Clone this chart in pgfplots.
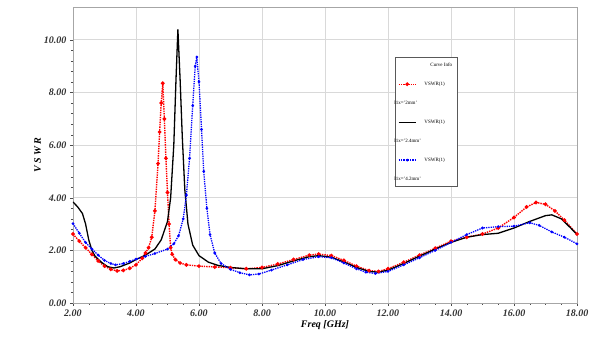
\documentclass[border=0pt]{standalone}
\usepackage{fontspec}
\setmainfont{Liberation Serif}
\usepackage{pgfplots}
\pgfplotsset{compat=1.18}
\begin{document}
\begin{tikzpicture}
\useasboundingbox (-73pt,-41pt) rectangle (525pt,303pt);
\begin{axis}[
  at={(0pt,0pt)}, anchor=south west,
  scale only axis, width=504pt, height=296pt,
  xmin=2, xmax=18, ymin=0, ymax=11.25,
  xtick={2,4,...,18}, ytick={0,2,...,10},
  minor x tick num=3, minor y tick num=4,
  grid=major, major grid style={gray!30, line width=0.8pt},
  axis line style={gray!70, line width=0.8pt},
  tick style={gray!60!black}, minor tick length=2pt, major tick length=3pt,
  tick align=outside, xtick pos=bottom, ytick pos=left,
  /pgf/number format/assume math mode=true,
  /pgf/number format/.cd, fixed, fixed zerofill, precision=2, /pgfplots/.cd,
  tick label style={font=\fontsize{10}{11}\selectfont\bfseries\itshape, text=black!80},
  xlabel={Freq [GHz]}, ylabel={V S W R},
  label style={font=\fontsize{10}{11}\selectfont\bfseries\itshape},
  xlabel style={yshift=3pt}, ylabel style={yshift=-4pt},
  legend style={at={(rel axis cs:0.638,0.83)}, anchor=north west, font=\fontsize{5}{6}\selectfont,
    draw=gray!70!black, line width=0.8pt, cells={anchor=west}, row sep=10pt,
    inner xsep=3pt, inner ysep=3pt},
  legend image post style={sharp plot},
  legend cell align=left,
]
\addlegendimage{empty legend}\addlegendentry{\hspace{12pt}Curve Info}
\addplot[red, line width=1.4pt, densely dotted, mark=*, mark size=1.1pt, mark options={solid}] coordinates {
(2.0,2.62)(2.2,2.35)(2.4,2.1)(2.6,1.85)(2.8,1.6)(3.0,1.4)(3.2,1.28)(3.4,1.22)(3.6,1.24)(3.8,1.32)(4.0,1.45)(4.2,1.7)(4.3,1.9)(4.4,2.1)(4.5,2.5)(4.6,3.5)(4.7,5.3)(4.75,6.5)(4.8,7.6)(4.85,8.35)(4.9,7.0)(4.95,5.5)(5.0,4.2)(5.05,3.0)(5.1,2.1)(5.15,1.85)(5.25,1.65)(5.4,1.52)(5.6,1.45)(6.0,1.4)(6.5,1.37)(7.0,1.34)(7.5,1.3)(8.0,1.35)(8.5,1.48)(9.0,1.65)(9.5,1.82)(9.8,1.86)(10.2,1.8)(10.6,1.62)(11.0,1.4)(11.4,1.23)(11.7,1.2)(12.0,1.3)(12.5,1.55)(13.0,1.82)(13.5,2.08)(14.0,2.35)(14.5,2.5)(15.0,2.62)(15.5,2.85)(16.0,3.25)(16.4,3.65)(16.7,3.82)(17.0,3.75)(17.3,3.5)(17.6,3.15)(18.0,2.62)};
\addlegendentry{\hspace{6pt}VSWR(1)}
\addlegendimage{empty legend}\addlegendentry{\hspace*{-24pt}l1x='2mm'}
\addplot[black, line width=1.3pt] coordinates {
(2.0,3.84)(2.15,3.65)(2.3,3.4)(2.4,3.0)(2.5,2.4)(2.6,2.0)(2.7,1.78)(2.9,1.55)(3.1,1.38)(3.3,1.33)(3.5,1.38)(3.8,1.52)(4.0,1.65)(4.3,1.82)(4.6,2.05)(4.8,2.4)(5.0,3.1)(5.1,4.0)(5.2,6.0)(5.27,8.5)(5.33,10.4)(5.4,8.5)(5.47,6.3)(5.55,4.3)(5.65,3.0)(5.8,2.2)(6.0,1.8)(6.3,1.55)(6.6,1.43)(7.0,1.35)(7.5,1.3)(8.0,1.3)(8.5,1.42)(9.0,1.6)(9.5,1.76)(9.8,1.8)(10.2,1.74)(10.6,1.56)(11.0,1.35)(11.4,1.2)(11.7,1.17)(12.0,1.25)(12.5,1.5)(13.0,1.78)(13.5,2.05)(14.0,2.3)(14.5,2.5)(15.0,2.6)(15.5,2.65)(16.0,2.85)(16.5,3.1)(17.0,3.32)(17.2,3.35)(17.5,3.2)(17.8,2.85)(18.0,2.6)};
\addlegendentry{\hspace{6pt}VSWR(1)}
\addlegendimage{empty legend}\addlegendentry{\hspace*{-24pt}l1x='2.4mm'}
\addplot[blue, line width=1.3pt, densely dotted, mark=*, mark size=0.6pt, mark options={solid}] coordinates {
(2.0,3.02)(2.2,2.65)(2.4,2.3)(2.6,2.05)(2.8,1.82)(3.0,1.62)(3.2,1.5)(3.35,1.45)(3.6,1.5)(3.8,1.58)(4.0,1.67)(4.3,1.77)(4.6,1.88)(5.0,2.05)(5.2,2.25)(5.35,2.55)(5.5,3.2)(5.6,4.1)(5.7,5.5)(5.8,7.5)(5.88,9.0)(5.93,9.35)(6.0,8.4)(6.08,6.6)(6.15,5.0)(6.25,3.6)(6.35,2.6)(6.5,1.9)(6.7,1.5)(7.0,1.28)(7.3,1.15)(7.6,1.07)(7.9,1.1)(8.3,1.25)(8.8,1.45)(9.3,1.65)(9.8,1.76)(10.2,1.72)(10.6,1.52)(11.0,1.3)(11.3,1.17)(11.6,1.12)(12.0,1.2)(12.5,1.45)(13.0,1.72)(13.5,2.0)(14.0,2.3)(14.5,2.6)(15.0,2.85)(15.5,2.9)(16.0,2.92)(16.5,3.05)(16.8,2.95)(17.2,2.7)(17.6,2.5)(18.0,2.25)};
\addlegendentry{\hspace{6pt}VSWR(1)}
\addlegendimage{empty legend}\addlegendentry{\hspace*{-24pt}l1x='4.2mm'}
\end{axis}
\end{tikzpicture}
\end{document}
